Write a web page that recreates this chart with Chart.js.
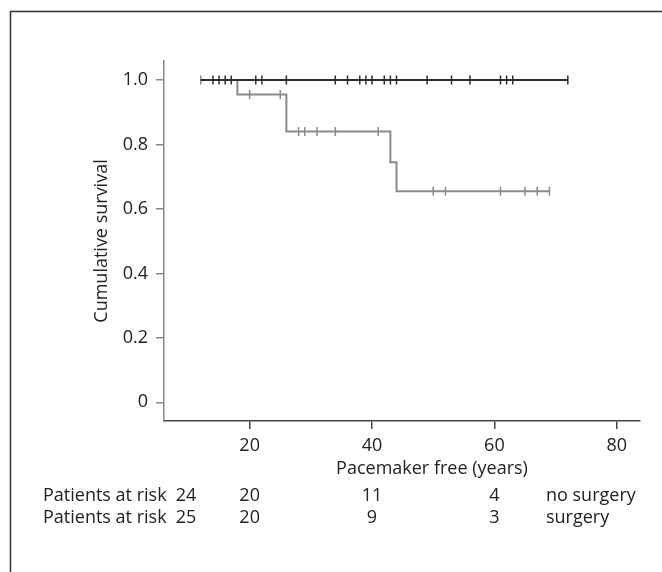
<!DOCTYPE html>
<html lang="en">
  <head>
    <meta charset="UTF-8" />
    <title>Cumulative survival</title>
    <script src="https://cdn.jsdelivr.net/npm/chart.js"></script>
    <style>
      body {
        margin: 0;
        background: #fff;
      }
    </style>
  </head>
  <body>
    <canvas id="km_chart" width="662" height="572"></canvas>

    <script>
      // Kaplan-Meier steps (years, cumulative survival)
      const noSurgeryTimes = [12, 72];
      const noSurgerySurv = [1.0, 1.0];
      const surgeryTimes = [12, 18, 26, 43, 44, 69];
      const surgerySurv = [1.0, 0.955, 0.84, 0.745, 0.655, 0.655];

      // censored observations
      const noSurgeryCensored = [14, 15, 16, 17, 21, 22, 26, 34, 36, 38, 39, 40, 42, 43, 44, 49, 53, 56, 61, 62, 63, 72];
      const surgeryCensored = [12, 20, 25, 28, 29, 31, 34, 41, 50, 52, 61, 65, 67, 69];

      const xTicks = [20, 40, 60, 80];
      const yTicks = [0, 0.2, 0.4, 0.6, 0.8, 1.0];

      // patients at risk table
      const riskTimes = [9.6, 20, 40, 60];
      const riskNoSurgery = [24, 20, 11, 4];
      const riskSurgery = [25, 20, 9, 3];
      const groupNames = ["no surgery", "surgery"];

      const FONT = "'Open Sans', sans-serif";
      const BLACK = "#2e2e2e";
      const GREY = "#8a8a8a";

      function survivalAt(times, surv, t) {
        let s = surv[0];
        for (let i = 0; i < times.length; i++) {
          if (times[i] <= t) s = surv[i];
        }
        return s;
      }

      function curve(times, surv) {
        return times.map((t, i) => ({ x: t, y: surv[i] }));
      }

      function censorPoints(times, surv, cens) {
        return cens.map((t) => ({ x: t, y: survivalAt(times, surv, t) }));
      }

      // frame, axis titles and the at-risk table
      const extras = {
        id: "extras",
        beforeDraw(chart) {
          const ctx = chart.ctx;
          ctx.save();
          ctx.strokeStyle = "#333";
          ctx.lineWidth = 1.5;
          ctx.strokeRect(10.5, 11.5, 720, 640);
          ctx.restore();
        },
        afterDraw(chart) {
          const ctx = chart.ctx;
          const xs = chart.scales.x;
          const area = chart.chartArea;
          ctx.save();
          ctx.fillStyle = "#222";
          ctx.font = "18px " + FONT;
          ctx.textBaseline = "middle";

          // y title
          ctx.save();
          ctx.translate(102, (area.top + area.bottom) / 2);
          ctx.rotate(-Math.PI / 2);
          ctx.textAlign = "center";
          ctx.fillText("Cumulative survival", 0, 0);
          ctx.restore();

          // x title
          ctx.textAlign = "center";
          ctx.fillText("Pacemaker free (years)", xs.getPixelForValue(49.8), area.bottom + 48);

          const rows = [riskNoSurgery, riskSurgery];
          rows.forEach((row, r) => {
            const y = area.bottom + 75 + r * 22;
            ctx.textAlign = "left";
            ctx.fillText("Patients at risk", 43, y);
            ctx.textAlign = "center";
            row.forEach((n, i) => {
              ctx.fillText(String(n), xs.getPixelForValue(riskTimes[i]), y);
            });
            ctx.textAlign = "left";
            ctx.fillText(groupNames[r], 546, y);
          });
          ctx.restore();
        },
      };

      new Chart(document.getElementById("km_chart").getContext("2d"), {
        type: "line",
        data: {
          datasets: [
            {
              label: "no surgery",
              data: curve(noSurgeryTimes, noSurgerySurv),
              borderColor: BLACK,
              borderWidth: 2,
              stepped: true,
              pointRadius: 0,
              fill: false,
            },
            {
              label: "no surgery censored",
              data: censorPoints(noSurgeryTimes, noSurgerySurv, noSurgeryCensored),
              showLine: false,
              pointStyle: "line",
              rotation: 90,
              pointRadius: 4.5,
              pointBorderWidth: 1.5,
              pointBorderColor: BLACK,
            },
            {
              label: "surgery",
              data: curve(surgeryTimes, surgerySurv),
              borderColor: GREY,
              borderWidth: 2,
              stepped: true,
              pointRadius: 0,
              fill: false,
            },
            {
              label: "surgery censored",
              data: censorPoints(surgeryTimes, surgerySurv, surgeryCensored),
              showLine: false,
              pointStyle: "line",
              rotation: 90,
              pointRadius: 4.5,
              pointBorderWidth: 1.5,
              pointBorderColor: GREY,
            },
          ],
        },
        options: {
          responsive: false,
          animation: false,
          layout: { padding: { top: 61, right: 22, left: 0, bottom: 0 } },
          plugins: {
            legend: { display: false },
            tooltip: { enabled: false },
          },
          scales: {
            x: {
              type: "linear",
              min: 6,
              max: 83.8,
              afterBuildTicks: (s) => {
                s.ticks = xTicks.map((v) => ({ value: v }));
              },
              afterFit: (s) => {
                s.height = 151;
              },
              grid: {
                drawOnChartArea: false,
                drawTicks: true,
                tickLength: 8,
                color: "#444",
                lineWidth: 1.5,
              },
              border: { display: true, color: "#444", width: 1.5 },
              ticks: {
                maxRotation: 0,
                padding: 6,
                color: "#222",
                font: { family: FONT, size: 18 },
              },
            },
            y: {
              type: "linear",
              min: -0.058,
              max: 1.059,
              afterBuildTicks: (s) => {
                s.ticks = yTicks.map((v) => ({ value: v }));
              },
              afterFit: (s) => {
                s.width = 164;
              },
              grid: {
                drawOnChartArea: false,
                drawTicks: true,
                tickLength: 8,
                color: "#888",
                lineWidth: 1.5,
              },
              border: { display: true, color: "#888", width: 1.5 },
              ticks: {
                padding: 8,
                color: "#222",
                font: { family: FONT, size: 18 },
                callback: (v) => (v === 0 ? "0" : v.toFixed(1)),
              },
            },
          },
        },
        plugins: [extras],
      });
    </script>
  </body>
</html>
